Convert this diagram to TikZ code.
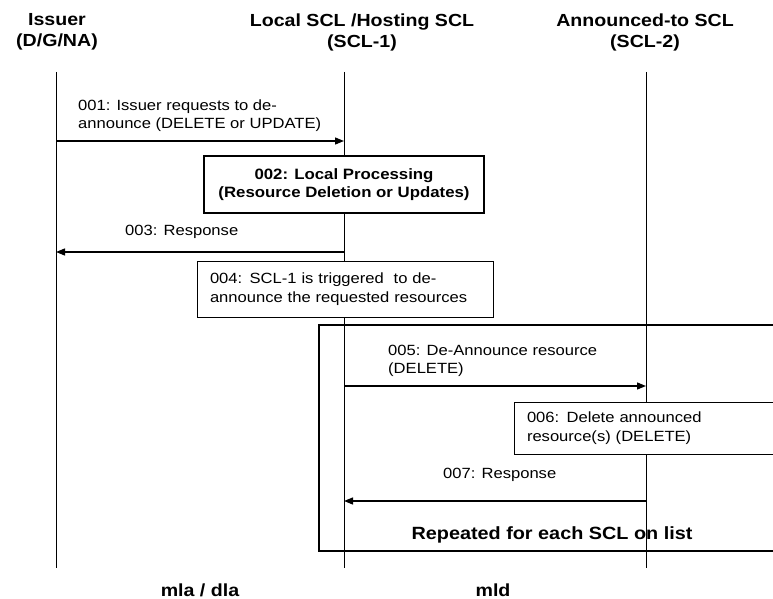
\documentclass[tikz,border=0pt]{standalone}
\usepackage{fontspec}
\setmainfont{Liberation Sans}[FakeStretch=1.12]
\usetikzlibrary{arrows.meta,positioning}
\newcommand{\hdrfont}{\fontsize{17.5}{21}\selectfont\bfseries}
\newcommand{\msgfont}{\fontsize{14.8}{18}\selectfont}
\tikzstyle{actor} = [align=center, inner sep=0pt, font=\hdrfont]
\tikzstyle{life} = [draw, line width=1pt]
\tikzstyle{line} = [draw, line width=1.3pt, -{Triangle[length=9pt,width=7pt]}]
\tikzstyle{msg} = [align=left, inner sep=0pt, anchor=north west, font=\msgfont]
\tikzstyle{proc} = [draw, line width=1pt, fill=white, align=left, inner xsep=13pt, font=\fontsize{14.8}{19}\selectfont]
\tikzstyle{local} = [draw, line width=2pt, fill=white, align=center, minimum width=280pt, minimum height=57pt, font=\fontsize{15}{18}\selectfont\bfseries]
\tikzstyle{frame} = [draw, line width=2pt, minimum width=471pt, minimum height=226pt]

\begin{document}
\begin{tikzpicture}[x=1pt, y=-1pt]
    \useasboundingbox (0,0) rectangle (773,599);
    \clip (0,0) rectangle (773,599);
    % Place nodes
    \node [actor] (issuer) at (57,32) {Issuer\\(D/G/NA)};
    \node [actor] (scl1) at (362,32) {Local SCL /Hosting SCL\\(SCL-1)};
    \node [actor] (scl2) at (645,32) {Announced-to SCL\\(SCL-2)};
    \coordinate (issuer top) at (56,72);  \coordinate (issuer end) at (56,568);
    \coordinate (scl1 top) at (344,72);   \coordinate (scl1 end) at (344,568);
    \coordinate (scl2 top) at (646,72);   \coordinate (scl2 end) at (646,568);
    % Draw lifelines
    \path [life] (issuer top) -- (issuer end);
    \path [life] (scl1 top) -- (scl1 end);
    \path [life] (scl2 top) -- (scl2 end);
    % Points where messages leave and arrive
    \coordinate (m1a) at (56,141);   \coordinate (m1b) at (344,141);
    \coordinate (m3a) at (344,252);  \coordinate (m3b) at (56,252);
    \coordinate (m5a) at (344,386);  \coordinate (m5b) at (646,386);
    \coordinate (m7a) at (646,501);  \coordinate (m7b) at (344,501);
    % Loop frame
    \node [frame] (loop) at (554.5,438) {};
    \node [font=\fontsize{17.7}{21}\selectfont\bfseries, inner sep=0pt] (repeat) at (552,535) {Repeated for each SCL on list};
    % Messages and processing steps
    \node [msg] (t1) at (78,100) {001: Issuer requests to de-\\announce (DELETE or UPDATE)};
    \path [line] (m1a) -- (m1b);
    \node [local] (lp) at (344,184.5) {002: Local Processing\\(Resource Deletion or Updates)};
    \node [msg] (t3) at (125,225) {003: Response};
    \path [line] (m3a) -- (m3b);
    \node [proc, text width=270pt, minimum height=56pt] (trig) at (345,289) {004: SCL-1 is triggered\ \ to de-\\announce the requested resources};
    \node [msg] (t5) at (388,345) {005: De-Announce resource\\(DELETE)};
    \path [line] (m5a) -- (m5b);
    \node [proc, text width=250pt, minimum height=52pt] (del) at (652,428) {006: Delete announced\\resource(s) (DELETE)};
    \node [msg] (t7) at (443,468) {007: Response};
    \path [line] (m7a) -- (m7b);
    % Interface labels
    \node [font=\hdrfont, inner sep=0pt] (ifa) at (200,590) {mla / dla};
    \node [font=\hdrfont, inner sep=0pt] (ifb) at (493,590) {mld};
\end{tikzpicture}
\end{document}
